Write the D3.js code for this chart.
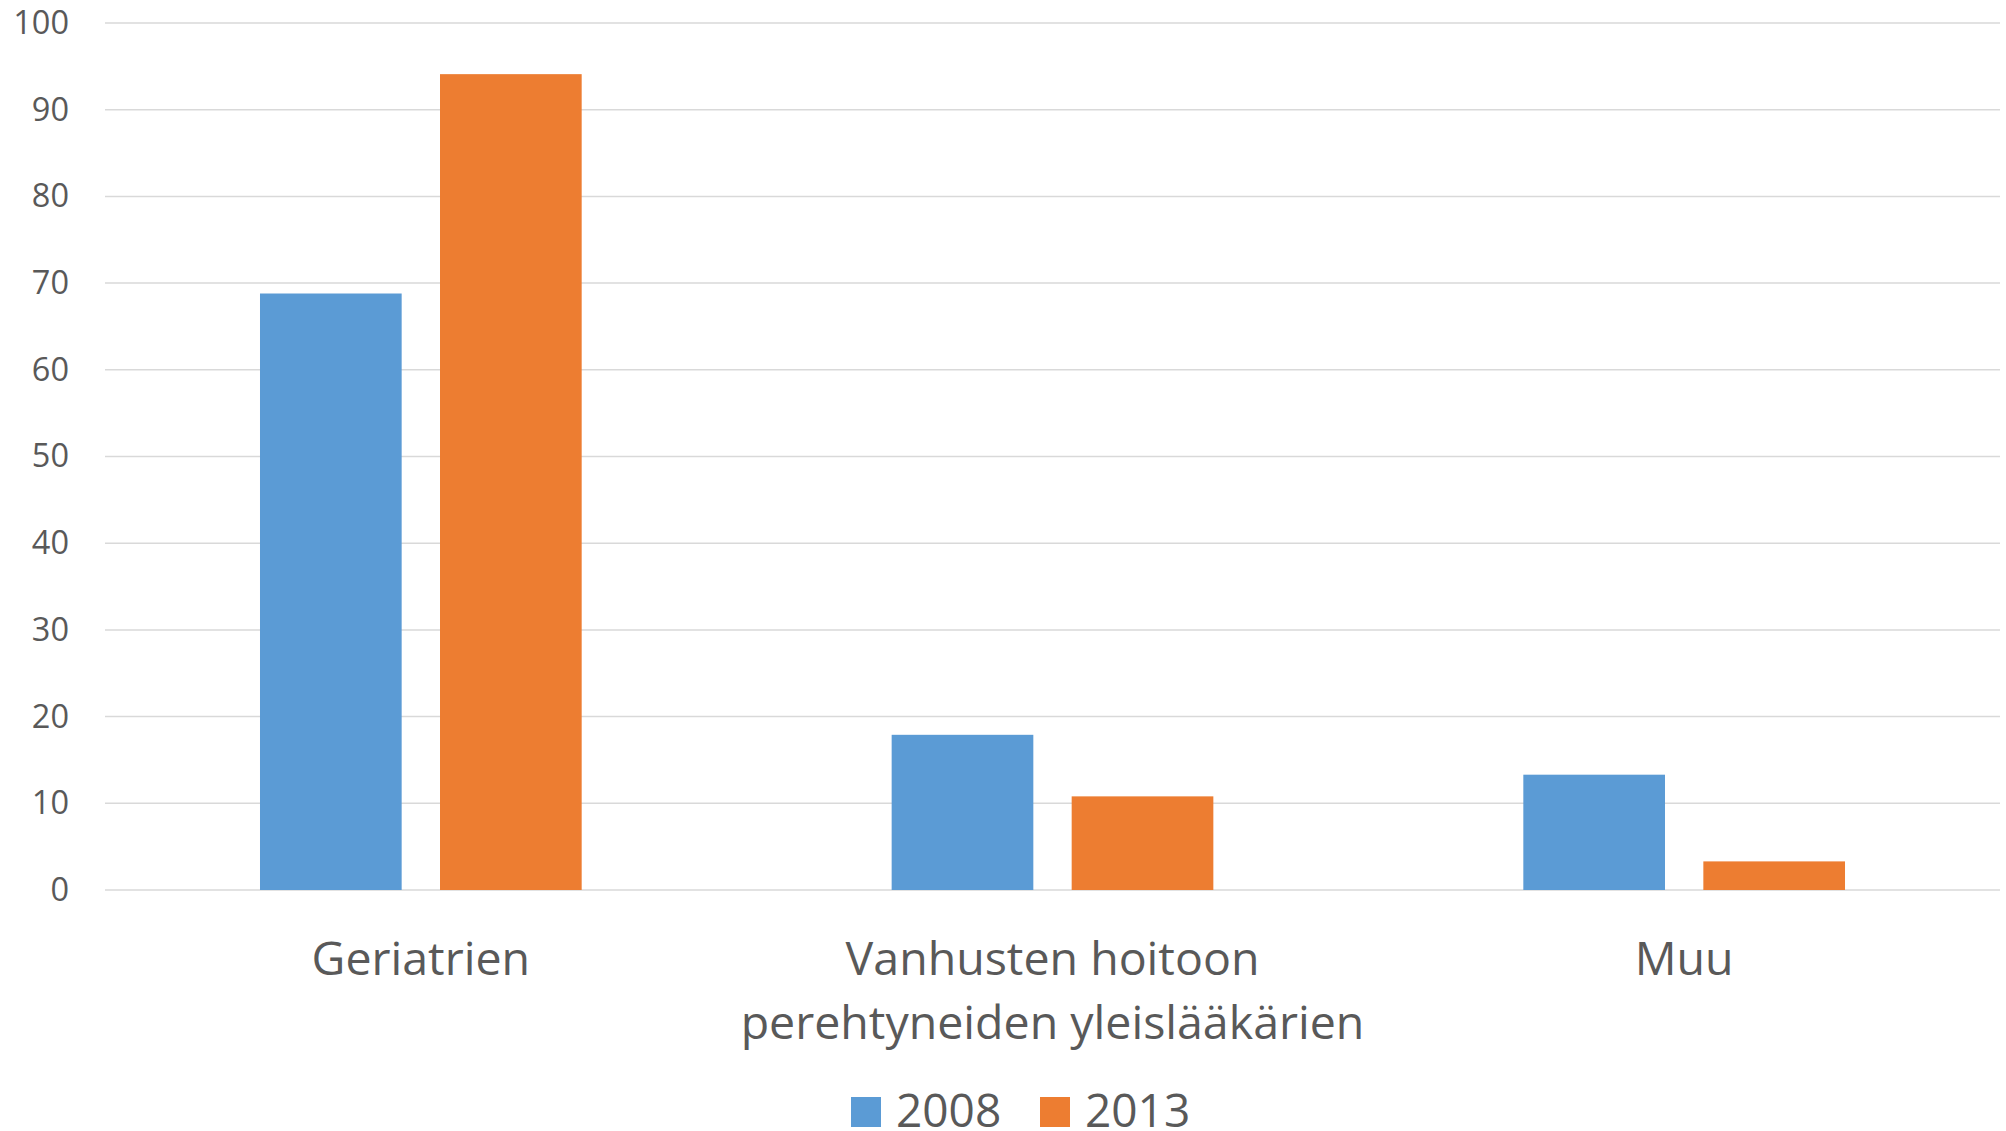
<!DOCTYPE html>
<html>
<head>
<meta charset="utf-8">
<script src="https://cdn.jsdelivr.net/npm/d3@7"></script>
<style>
  body { margin: 0; background: #fff; }
  svg text { font-family: 'Open Sans', sans-serif; fill: #595959; }
</style>
</head>
<body>
<div id="chart"></div>
<script>
// data
const categories = ['Geriatrien', 'Vanhusten hoitoon perehtyneiden yleislääkärien', 'Muu'];
const categoryLines = [['Geriatrien'], ['Vanhusten hoitoon', 'perehtyneiden yleislääkärien'], ['Muu']];
const seriesNames = ['2008', '2013'];
const values2008 = [68.8, 17.9, 13.3];
const values2013 = [94.1, 10.8, 3.3];
const yTicks = [0, 10, 20, 30, 40, 50, 60, 70, 80, 90, 100];
const colors = ['#5B9BD5', '#ED7D31'];

const width = 2006;
const height = 1131;
const margin = { top: 23, right: 6, bottom: 241, left: 105 };

const svg = d3.select('#chart')
  .append('svg')
  .attr('width', width)
  .attr('height', height);

const x0 = d3.scaleBand()
  .domain(categories)
  .range([margin.left, width - margin.right])
  .padding(0);

const x1 = d3.scaleBand()
  .domain(seriesNames)
  .range([0, x0.bandwidth()])
  .paddingInner(0.213)
  .paddingOuter(0.861);

const y = d3.scaleLinear()
  .domain([0, 100])
  .range([height - margin.bottom, margin.top]);

// gridlines
svg.append('g')
  .selectAll('line')
  .data(yTicks)
  .join('line')
  .attr('x1', margin.left)
  .attr('x2', width - margin.right)
  .attr('y1', d => y(d))
  .attr('y2', d => y(d))
  .attr('stroke', '#D9D9D9')
  .attr('stroke-width', 1.5);

// y axis labels
const yAxis = svg.append('g')
  .attr('transform', `translate(${margin.left},0)`)
  .call(d3.axisLeft(y).tickValues(yTicks).tickSize(0).tickPadding(36));
yAxis.select('.domain').remove();
yAxis.selectAll('text')
  .style('font-size', '32.5px')
  .attr('fill', '#595959');

// bars
const rows = categories.map((c, i) => ({ cat: c, vals: [values2008[i], values2013[i]] }));

svg.append('g')
  .selectAll('g')
  .data(rows)
  .join('g')
  .attr('transform', d => `translate(${x0(d.cat)},0)`)
  .selectAll('rect')
  .data(d => d.vals.map((v, j) => ({ name: seriesNames[j], value: v, color: colors[j] })))
  .join('rect')
  .attr('x', d => x1(d.name))
  .attr('y', d => y(d.value))
  .attr('width', x1.bandwidth())
  .attr('height', d => y(0) - y(d.value))
  .attr('fill', d => d.color);

// category labels
const catLabels = svg.append('g')
  .selectAll('text')
  .data(categories)
  .join('text')
  .attr('x', d => x0(d) + x0.bandwidth() / 2)
  .attr('y', 975)
  .attr('text-anchor', 'middle')
  .style('font-size', '46.5px');

catLabels.selectAll('tspan')
  .data((d, i) => categoryLines[i])
  .join('tspan')
  .attr('x', function () { return d3.select(this.parentNode).attr('x'); })
  .attr('dy', (d, i) => i === 0 ? 0 : 64)
  .text(d => d);

// legend
const legend = svg.append('g');
const legendX = [851, 1040];
seriesNames.forEach((name, i) => {
  legend.append('rect')
    .attr('x', legendX[i])
    .attr('y', 1097)
    .attr('width', 30)
    .attr('height', 30)
    .attr('fill', colors[i]);
  legend.append('text')
    .attr('x', legendX[i] + 45)
    .attr('y', 1127)
    .style('font-size', '46px')
    .text(name);
});
</script>
</body>
</html>
